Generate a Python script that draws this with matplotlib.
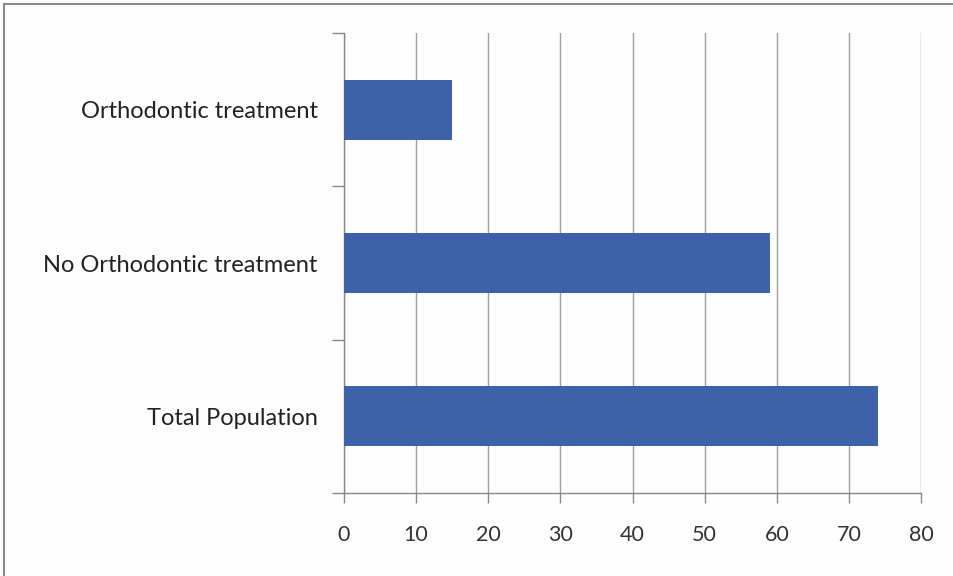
import matplotlib
matplotlib.use("Agg")
import matplotlib.pyplot as plt
from matplotlib.lines import Line2D

categories = ["Total Population", "No Orthodontic treatment", "Orthodontic treatment"]
values = [74, 59, 15]
xticks = [0, 10, 20, 30, 40, 50, 60, 70, 80]

plt.rcParams["font.family"] = ["Lato", "DejaVu Sans"]

fig = plt.figure(figsize=(9.54, 5.76), dpi=100, facecolor="#fdfdfd")
ax = fig.add_axes([344 / 954, 1 - 493 / 576, 577 / 954, 460 / 576])
ax.set_facecolor("#fdfdfd")

pos = list(range(len(categories)))
ax.barh(pos, values, height=0.39, color="#3d62aa", zorder=3)

ax.set_xlim(0, 80)
ax.set_ylim(-0.5, len(categories) - 0.5)
ax.set_xticks(xticks)
ax.set_xticklabels([str(t) for t in xticks], fontsize=15.5, color="#333333")
ax.tick_params(axis="x", length=7, width=1, color="#888888", pad=16, direction="out")

# category labels centred on bars, tick marks on boundaries
ax.set_yticks(pos)
ax.set_yticklabels(categories, fontsize=17, color="#222222")
ax.tick_params(axis="y", length=0, pad=19)
ax.set_yticks([p - 0.5 for p in pos] + [len(categories) - 0.5], minor=True)
ax.tick_params(axis="y", which="minor", length=9, width=1, color="#888888")

ax.grid(axis="x", color="#a0a0a0", linewidth=1, zorder=0)
for s in ["top", "right"]:
    ax.spines[s].set_visible(False)
for s in ["left", "bottom"]:
    ax.spines[s].set_color("#888888")
    ax.spines[s].set_linewidth(1)

# outer frame of the chart area
fig.add_artist(Line2D([4 / 954, 1], [1 - 4 / 576] * 2, transform=fig.transFigure,
                      color="#8a8a8a", linewidth=1.5))
fig.add_artist(Line2D([4 / 954] * 2, [0, 1 - 4 / 576], transform=fig.transFigure,
                      color="#8a8a8a", linewidth=1.5))

fig.savefig("out.png", dpi=100, facecolor=fig.get_facecolor())
